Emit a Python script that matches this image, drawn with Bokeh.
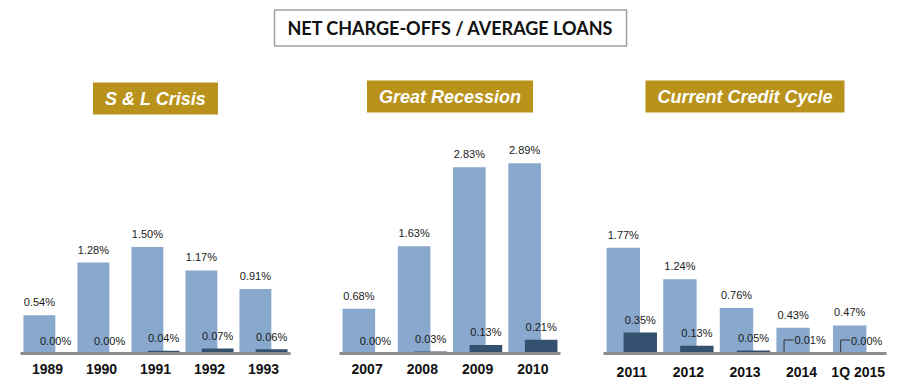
from bokeh.plotting import figure
from bokeh.models import ColumnDataSource, FactorRange, Range1d, Label
from bokeh.layouts import column, row
from bokeh.transform import dodge
from bokeh.core.properties import value
from bokeh.embed import file_html
from bokeh.resources import INLINE

# ---- data ----
title_text = "NET CHARGE-OFFS / AVERAGE LOANS"

sl_title = "S & L Crisis"
sl_years = ["1989", "1990", "1991", "1992", "1993"]
sl_a = [0.54, 1.28, 1.50, 1.17, 0.91]
sl_b = [0.00, 0.00, 0.04, 0.07, 0.06]

gr_title = "Great Recession"
gr_years = ["2007", "2008", "2009", "2010"]
gr_a = [0.68, 1.63, 2.83, 2.89]
gr_b = [0.00, 0.03, 0.13, 0.21]

cc_title = "Current Credit Cycle"
cc_years = ["2011", "2012", "2013", "2014", "1Q 2015"]
cc_a = [1.77, 1.24, 0.76, 0.43, 0.47]
cc_b = [0.35, 0.13, 0.05, 0.01, 0.00]
cc_leader_years = ["2014", "1Q 2015"]

# ---- style ----
LIGHT = "#88A8CE"
DARK = "#34506F"
GOLD = "#B8921A"
AXIS_GRAY = "#8C8C8C"
FONT = "Liberation Sans"
PANEL_H = 320
BOTTOM = 35
FRAME_H = PANEL_H - BOTTOM


def make_panel(years, a, b, ymax, width, bl, br, title, label_y, leader_years=None):
    src = ColumnDataSource(dict(
        year=years, a=a, b=b,
        la=[f"{v:.2f}%" for v in a],
        lb=[f"{v:.2f}%" for v in b],
    ))
    p = figure(x_range=FactorRange(*years, range_padding=0), y_range=Range1d(0, ymax),
               width=width, height=PANEL_H, output_backend="svg", toolbar_location=None,
               min_border_left=bl, min_border_right=br, min_border_top=0,
               min_border_bottom=BOTTOM)
    p.vbar(x=dodge("year", -0.15, range=p.x_range), top="a", width=0.59, source=src,
           fill_color=LIGHT, line_color=None)
    p.vbar(x=dodge("year", 0.15, range=p.x_range), top="b", width=0.59, source=src,
           fill_color=DARK, line_color=None)
    p.text(x=dodge("year", -0.15, range=p.x_range), y="a", text="la", source=src,
           text_align="center", text_baseline="middle", y_offset=-13,
           text_font=value(FONT), text_font_size="11px", text_color="#1a1a1a")
    p.text(x=dodge("year", 0.15, range=p.x_range), y="b", text="lb", source=src,
           text_align="center", text_baseline="middle", y_offset=-12.5,
           text_font=value(FONT), text_font_size="11px", text_color="#1a1a1a")
    if leader_years:
        lsrc = ColumnDataSource(dict(year=leader_years,
                                     y0=[0.0] * len(leader_years),
                                     y1=[13.5 / (FRAME_H / ymax)] * len(leader_years)))
        p.segment(x0=dodge("year", -0.31, range=p.x_range), y0="y0",
                  x1=dodge("year", -0.31, range=p.x_range), y1="y1",
                  source=lsrc, line_color="#333333", line_width=1)
        p.segment(x0=dodge("year", -0.31, range=p.x_range), y0="y1",
                  x1=dodge("year", -0.145, range=p.x_range), y1="y1",
                  source=lsrc, line_color="#333333", line_width=1)
    p.xgrid.grid_line_color = None
    p.ygrid.grid_line_color = None
    p.yaxis.visible = False
    p.outline_line_color = None
    ax = p.xaxis[0]
    ax.axis_line_color = AXIS_GRAY
    ax.axis_line_width = 3
    ax.major_tick_line_color = None
    ax.minor_tick_line_color = None
    ax.major_tick_out = 0
    ax.major_label_standoff = 10
    ax.major_label_text_font = FONT
    ax.major_label_text_font_style = "bold"
    ax.major_label_text_font_size = "14px"
    ax.major_label_text_color = "#111111"
    frame_w = width - bl - br
    p.add_layout(Label(x=frame_w / 2, y=label_y, x_units="screen", y_units="screen",
                       text=title, text_align="center", text_baseline="middle",
                       text_font=FONT, text_font_style="bold italic",
                       text_font_size="18px", text_color="white",
                       background_fill_color=GOLD, border_line_color=None,
                       padding=dict(left=12, right=12, top=6, bottom=6)))
    return p


p1 = make_panel(sl_years, sl_a, sl_b, FRAME_H / 71.0, 315, 20, 25, sl_title, 255)
p2 = make_panel(gr_years, gr_a, gr_b, FRAME_H / 65.8, 275, 24, 30, gr_title, 257)
p3 = make_panel(cc_years, cc_a, cc_b, FRAME_H / 59.8, 314, 13, 18, cc_title, 257,
                cc_leader_years)

t = figure(width=904, height=68, x_range=Range1d(0, 1), y_range=Range1d(0, 1),
           output_backend="svg", toolbar_location=None, min_border=0)
t.xaxis.visible = False
t.yaxis.visible = False
t.xgrid.grid_line_color = None
t.ygrid.grid_line_color = None
t.outline_line_color = None
t.add_layout(Label(x=450, y=40.5, x_units="screen", y_units="screen",
                   text=title_text, text_align="center", text_baseline="middle",
                   text_font="Lato", text_font_style="bold", text_font_size="18px",
                   text_color="#111111", background_fill_color="white",
                   border_line_color="#A0A0A0", border_line_width=1.5,
                   padding=dict(left=13, right=13, top=7, bottom=7)))

layout = column(t, row(p1, p2, p3))
open("out.html", "w").write(file_html(layout, INLINE))
